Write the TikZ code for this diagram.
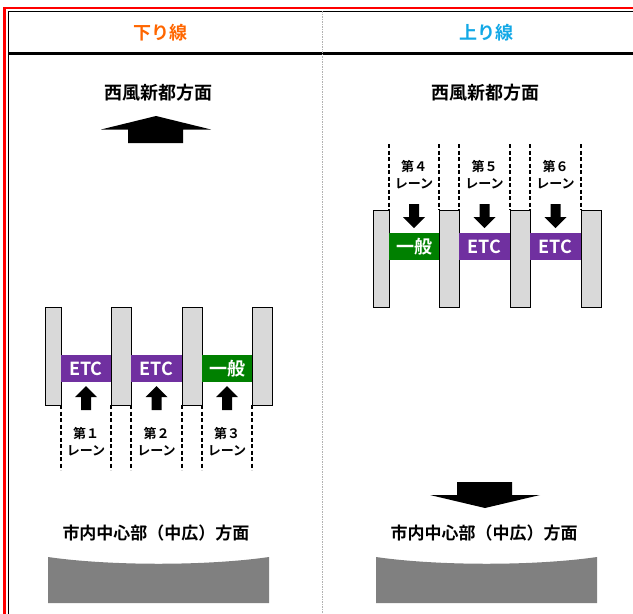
\documentclass[tikz,border=0pt]{standalone}
\usepackage{fontspec}
\setmainfont{Noto Sans CJK JP}[BoldFont={Noto Sans CJK JP Bold}]
\definecolor{hdorange}{HTML}{FF6600}
\definecolor{hdblue}{HTML}{12A8E6}
\definecolor{etcpurple}{HTML}{7030A0}
\definecolor{genGreen}{HTML}{008000}
\definecolor{pillarGray}{HTML}{D9D9D9}
\definecolor{baseGray}{HTML}{808080}
\tikzset{
  pillar/.style={fill=pillarGray, draw=black, line width=0.9pt},
  gatebar/.style={inner sep=0pt, text=white, font=\bfseries\fontsize{18}{18}\selectfont, minimum height=27pt},
  etcbar/.style={gatebar, fill=etcpurple},
  genbar/.style={gatebar, fill=genGreen},
  lanelabel/.style={align=center, font=\bfseries\fontsize{13}{17}\selectfont, inner sep=0pt},
  dirlabel/.style={font=\bfseries\fontsize{18}{18}\selectfont, inner sep=0pt},
  southlabel/.style={font=\bfseries\fontsize{17}{17}\selectfont, inner sep=0pt},
  headlabel/.style={font=\bfseries\fontsize{18}{18}\selectfont, inner sep=0pt},
  laneline/.style={line width=1.5pt, dash pattern=on 4pt off 2.5pt},
  blockarrow/.style={fill=black, draw=none},
}
\begin{document}
\begin{tikzpicture}[x=1pt,y=-1pt]
\useasboundingbox (0,0) rectangle (633,614);
\begin{scope}
\clip (0,0) rectangle (633,614);
\draw[red, line width=2.8pt] (4.5,8) rectangle (700,700);
\draw[black, line width=1.3pt] (8.3,11.3) rectangle (700,700);
\draw[black, line width=2.4pt] (8.3,53.3) -- (700,53.3);
\draw[gray!60, line width=1.2pt, dash pattern=on 1.5pt off 1pt] (322.7,11.3) -- (322.7,700);
\end{scope}

% headers
\node[headlabel, text=hdorange] (hdown) at (160,33) {下り線};
\node[headlabel, text=hdblue] (hup) at (486,33) {上り線};

% ---------- Left panel (down line) ----------
\node[dirlabel] (lnorth) at (158,93) {西風新都方面};
\fill[blockarrow] (156,116) -- (211,129.5) -- (183,129.5) -- (183,143) -- (128,143) -- (128,129.5) -- (101,129.5) -- cycle;

\foreach \n/\a/\b in {1/45/61, 2/111/131, 3/182/202, 4/252/272}{
  \draw[pillar] (\a,307) rectangle (\b,405);
}
\node[etcbar, minimum width=50pt] (l1bar) at (86,368.5) {ETC};
\node[etcbar, minimum width=51pt] (l2bar) at (156.5,368.5) {ETC};
\node[genbar, minimum width=50pt] (l3bar) at (227,368.5) {一般};

\foreach \c in {86,156.5,227}{
  \fill[blockarrow] (\c,386) -- (\c+11,397) -- (\c+5,397) -- (\c+5,410) -- (\c-5,410) -- (\c-5,397) -- (\c-11,397) -- cycle;
}
\foreach \x in {61,111,131,182,202,252}{
  \coordinate (lt\x) at (\x,405);
  \coordinate (lb\x) at (\x,470);
  \draw[laneline] (lt\x) -- (lb\x);
}
\node[lanelabel] (lane1) at (86,442) {第１\\レーン};
\node[lanelabel] (lane2) at (156.5,442) {第２\\レーン};
\node[lanelabel] (lane3) at (227,442) {第３\\レーン};

\node[southlabel] (lsouth) at (156,533) {市内中心部（中広）方面};
\fill[baseGray] (48,557) .. controls (110,566) and (207,566) .. (269,557) -- (269,603) -- (48,603) -- cycle;

% ---------- Right panel (up line) ----------
\node[dirlabel] (rnorth) at (485,93) {西風新都方面};

\foreach \x in {389,439,459,510,530,581}{
  \coordinate (rt\x) at (\x,144);
  \coordinate (rb\x) at (\x,210);
  \draw[laneline] (rt\x) -- (rb\x);
}
\node[lanelabel] (lane4) at (414,174.5) {第４\\レーン};
\node[lanelabel] (lane5) at (484.5,174.5) {第５\\レーン};
\node[lanelabel] (lane6) at (555.5,174.5) {第６\\レーン};

\foreach \c in {414,484.5,555.5}{
  \fill[blockarrow] (\c,228) -- (\c+11,217) -- (\c+5,217) -- (\c+5,204) -- (\c-5,204) -- (\c-5,217) -- (\c-11,217) -- cycle;
}
\foreach \n/\a/\b in {1/373/389, 2/439/459, 3/510/530, 4/581/601}{
  \draw[pillar] (\a,210) rectangle (\b,307);
}
\node[genbar, minimum width=50pt] (r4bar) at (414,246.5) {一般};
\node[etcbar, minimum width=51pt] (r5bar) at (484.5,246.5) {ETC};
\node[etcbar, minimum width=51pt] (r6bar) at (555.5,246.5) {ETC};

\fill[blockarrow] (457,482) -- (512,482) -- (512,495) -- (540,495) -- (485,508) -- (430,495) -- (457,495) -- cycle;
\node[southlabel] (rsouth) at (484,533) {市内中心部（中広）方面};
\fill[baseGray] (376,557) .. controls (438,566) and (535,566) .. (597,557) -- (597,603) -- (376,603) -- cycle;
\end{tikzpicture}
\end{document}
